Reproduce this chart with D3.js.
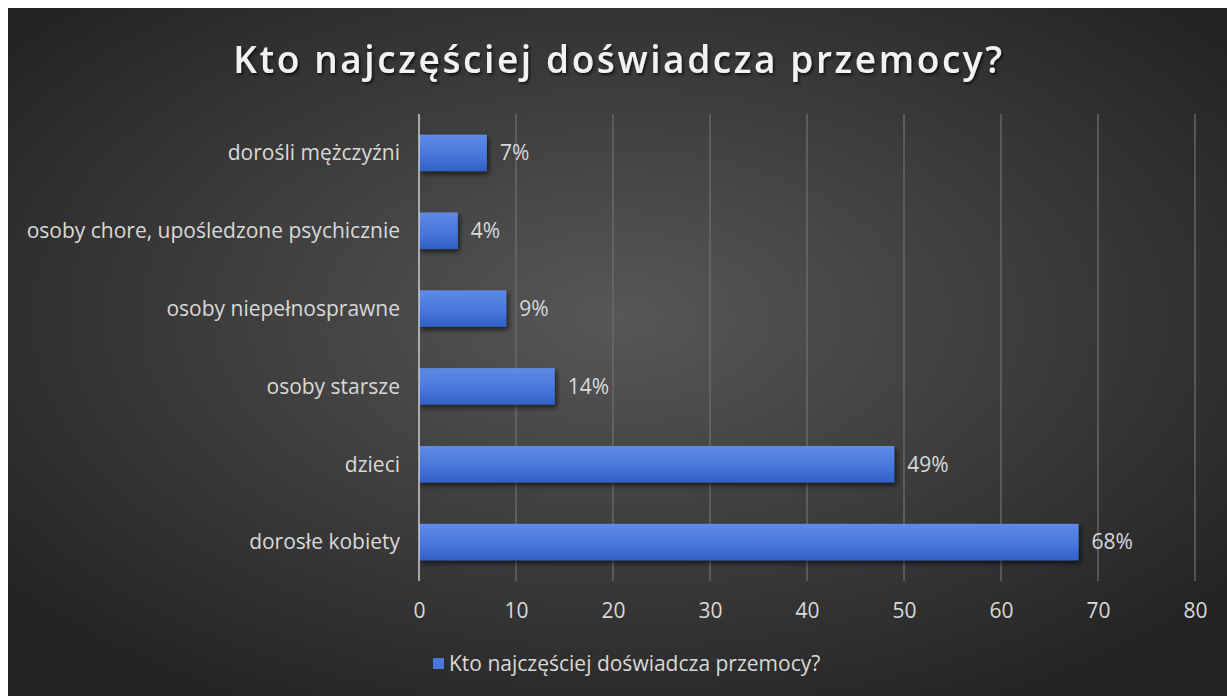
<!DOCTYPE html>
<html>
<head>
<meta charset="utf-8">
<script src="https://cdn.jsdelivr.net/npm/d3@7"></script>
<style>
  html, body { margin: 0; padding: 0; background: #fff; }
  svg { display: block; }
</style>
</head>
<body>
<div id="demo"></div>
<script>
// Data (top to bottom)
const categories = ["dorośli mężczyźni", "osoby chore, upośledzone psychicznie", "osoby niepełnosprawne", "osoby starsze", "dzieci", "dorosłe kobiety"];
const values = [7, 4, 9, 14, 49, 68];
const valueLabels = ["7%", "4%", "9%", "14%", "49%", "68%"];
const xTicks = [0, 10, 20, 30, 40, 50, 60, 70, 80];
const title = "Kto najczęściej doświadcza przemocy?";

const W = 1227, H = 696;
const m = { top: 114, right: 31, bottom: 115, left: 419 };
const fontSize = 21;

const svg = d3.select("#demo").append("svg").attr("width", W).attr("height", H);
const defs = svg.append("defs");

// background gradient
const bg = defs.append("radialGradient").attr("id", "bg")
  .attr("cx", "50%").attr("cy", "45%").attr("r", "65%");
bg.append("stop").attr("offset", "0%").attr("stop-color", "#575757");
bg.append("stop").attr("offset", "100%").attr("stop-color", "#232323");

const barGrad = defs.append("linearGradient").attr("id", "bar")
  .attr("x1", 0).attr("y1", 0).attr("x2", 0).attr("y2", 1);
barGrad.append("stop").attr("offset", "0%").attr("stop-color", "#5f8be6");
barGrad.append("stop").attr("offset", "55%").attr("stop-color", "#4977db");
barGrad.append("stop").attr("offset", "100%").attr("stop-color", "#3160c4");

const shadow = defs.append("filter").attr("id", "shadow")
  .attr("x", "-10%").attr("y", "-20%").attr("width", "130%").attr("height", "160%");
shadow.append("feDropShadow").attr("dx", 2).attr("dy", 3).attr("stdDeviation", 2.5)
  .attr("flood-color", "#000").attr("flood-opacity", 0.6);

const tshadow = defs.append("filter").attr("id", "tshadow");
tshadow.append("feDropShadow").attr("dx", 1.5).attr("dy", 2).attr("stdDeviation", 1.5)
  .attr("flood-color", "#000").attr("flood-opacity", 0.7);

svg.append("rect").attr("x", 8).attr("y", 8).attr("width", W - 8).attr("height", H - 8)
  .attr("fill", "url(#bg)");

const w = W - m.left - m.right;
const h = H - m.top - m.bottom;

const xScale = d3.scaleLinear().domain([0, 80]).range([0, w - 1]);
const yScale = d3.scaleBand().domain(categories).range([0, h]).paddingInner(0.53).paddingOuter(0.265);

const g = svg.append("g").attr("transform", "translate(" + m.left + "," + m.top + ")");

// grid lines
g.append("g").selectAll("line").data(xTicks.slice(1)).enter().append("line")
  .attr("x1", d => xScale(d)).attr("x2", d => xScale(d))
  .attr("y1", 0).attr("y2", h)
  .attr("stroke", "#6e6e6e").attr("stroke-width", 1.3);

// x axis labels
const xAxis = d3.axisBottom(xScale).tickValues(xTicks).tickSize(0).tickPadding(22);
const xg = g.append("g").attr("transform", "translate(0," + h + ")").call(xAxis);
xg.select(".domain").remove();
xg.selectAll("text").attr("fill", "#d9d9d9").attr("font-size", fontSize)
  .attr("font-family", "Open Sans, sans-serif");

// bars
g.selectAll(".bar").data(values).enter().append("rect")
  .attr("class", "bar")
  .attr("x", 0)
  .attr("y", (d, i) => yScale(categories[i]))
  .attr("width", d => xScale(d))
  .attr("height", yScale.bandwidth())
  .attr("fill", "url(#bar)")
  .attr("filter", "url(#shadow)");

// vertical axis line
g.append("line").attr("x1", 0).attr("x2", 0).attr("y1", 0).attr("y2", h)
  .attr("stroke", "#cfcfcf").attr("stroke-width", 1.5);

// value labels
g.selectAll(".val").data(values).enter().append("text")
  .attr("x", d => xScale(d) + 13)
  .attr("y", (d, i) => yScale(categories[i]) + yScale.bandwidth() / 2)
  .attr("dy", "0.35em")
  .attr("fill", "#d9d9d9").attr("font-size", fontSize)
  .attr("font-family", "Open Sans, sans-serif")
  .text((d, i) => valueLabels[i]);

// category labels
g.selectAll(".cat").data(categories).enter().append("text")
  .attr("x", -19)
  .attr("y", d => yScale(d) + yScale.bandwidth() / 2)
  .attr("dy", "0.35em")
  .attr("text-anchor", "end")
  .attr("fill", "#d9d9d9").attr("font-size", fontSize)
  .attr("font-family", "Open Sans, sans-serif")
  .text(d => d);

// title
svg.append("text")
  .attr("x", 619).attr("y", 73)
  .attr("text-anchor", "middle")
  .attr("fill", "#f2f2f2")
  .attr("font-size", 37).attr("font-weight", 600)
  .attr("letter-spacing", 2.6)
  .attr("font-family", "Open Sans, sans-serif")
  .attr("filter", "url(#tshadow)")
  .text(title);

// legend
const lg = svg.append("g").attr("transform", "translate(433,664)");
lg.append("rect").attr("x", 0).attr("y", -6).attr("width", 11).attr("height", 11).attr("fill", "#4977db");
lg.append("text").attr("x", 16).attr("y", 0).attr("dy", "0.35em")
  .attr("fill", "#d9d9d9").attr("font-size", fontSize)
  .attr("font-family", "Open Sans, sans-serif")
  .text(title);
</script>
</body>
</html>
